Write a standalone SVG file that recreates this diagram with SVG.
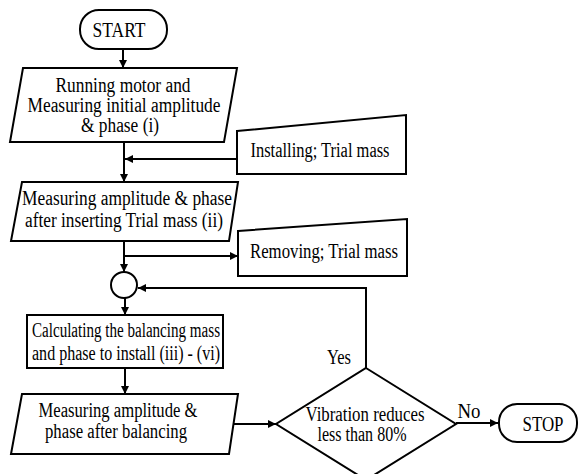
<svg xmlns="http://www.w3.org/2000/svg" width="579" height="474" viewBox="0 0 579 474">
  <style>
    .shape { fill: #ffffff; stroke: #000000; stroke-width: 2; stroke-linejoin: miter; }
    .conn { fill: none; stroke: #000000; stroke-width: 2; }
    .t { font-family: 'Liberation Serif', 'Times New Roman', serif; font-size: 20px; fill: #000000; text-anchor: middle; }
  </style>
  <defs>
    <marker id="arrow" viewBox="0 0 10 10" refX="10" refY="5" markerWidth="9" markerHeight="8" markerUnits="userSpaceOnUse" orient="auto">
      <path d="M0,0 L10,5 L0,10 z" fill="#000000"/>
    </marker>
  </defs>
  <rect width="579" height="474" fill="#ffffff"/>

  <g id="connectors">
    <path class="conn" d="M123,49 V68" marker-end="url(#arrow)"/>
    <path class="conn" d="M124,142 V182" marker-end="url(#arrow)"/>
    <path class="conn" d="M237,159 H125" marker-end="url(#arrow)"/>
    <path class="conn" d="M124,241 V272" marker-end="url(#arrow)"/>
    <path class="conn" d="M124,256 H238" marker-end="url(#arrow)"/>
    <path class="conn" d="M125,298 V315" marker-end="url(#arrow)"/>
    <path class="conn" d="M125,368 V394" marker-end="url(#arrow)"/>
    <path class="conn" d="M233,424 H276" marker-end="url(#arrow)"/>
    <path class="conn" d="M456,423 H498" marker-end="url(#arrow)"/>
    <path class="conn" d="M366,368 V288 H138" marker-end="url(#arrow)"/>
  </g>

  <g font-family="Liberation Serif, Times New Roman, serif">
  <g id="start">
    <rect class="shape" x="80" y="10" width="87" height="39" rx="19" ry="19"/>
    <text class="t" x="119" y="37" textLength="53" lengthAdjust="spacingAndGlyphs">START</text>
  </g>

  <g id="measure-initial">
    <polygon class="shape" points="23,68 237,68 224,142 10,142"/>
    <text class="t" x="123" y="92" textLength="135" lengthAdjust="spacingAndGlyphs">Running motor and</text>
    <text class="t" x="124" y="112" textLength="193" lengthAdjust="spacingAndGlyphs">Measuring initial amplitude</text>
    <text class="t" x="120" y="132" textLength="78" lengthAdjust="spacingAndGlyphs">&amp; phase (i)</text>
  </g>

  <g id="installing">
    <polygon class="shape" points="237,131 406,115 406,174 237,174"/>
    <text class="t" x="320" y="157" textLength="139" lengthAdjust="spacingAndGlyphs">Installing; Trial mass</text>
  </g>

  <g id="measure-trial">
    <polygon class="shape" points="22,182 238,182 229,241 11,241"/>
    <text class="t" x="127" y="205" textLength="210" lengthAdjust="spacingAndGlyphs">Measuring amplitude &amp; phase</text>
    <text class="t" x="124" y="227" textLength="198" lengthAdjust="spacingAndGlyphs">after inserting Trial mass (ii)</text>
  </g>

  <g id="removing">
    <polygon class="shape" points="238,231 407,219 407,276 238,276"/>
    <text class="t" x="324" y="258" textLength="148" lengthAdjust="spacingAndGlyphs">Removing; Trial mass</text>
  </g>

  <g id="junction">
    <circle class="shape" cx="124" cy="285" r="13"/>
  </g>

  <g id="calculating">
    <rect class="shape" x="27" y="315" width="196" height="53"/>
    <text class="t" x="126" y="337" textLength="188" lengthAdjust="spacingAndGlyphs">Calculating the balancing mass</text>
    <text class="t" x="126" y="360" textLength="188" lengthAdjust="spacingAndGlyphs">and phase to install (iii) - (vi)</text>
  </g>

  <g id="measure-after">
    <polygon class="shape" points="22,394 238,394 229,454 11,454"/>
    <text class="t" x="118" y="417" textLength="159" lengthAdjust="spacingAndGlyphs">Measuring amplitude &amp;</text>
    <text class="t" x="116" y="438" textLength="142" lengthAdjust="spacingAndGlyphs">phase after balancing</text>
  </g>

  <g id="decision">
    <polygon class="shape" points="366,368 456,424 366,480 276,424"/>
    <text class="t" x="365" y="421" textLength="119" lengthAdjust="spacingAndGlyphs">Vibration reduces</text>
    <text class="t" x="362" y="441" textLength="89" lengthAdjust="spacingAndGlyphs">less than 80%</text>
  </g>

  <g id="labels">
    <text class="t" x="339" y="364" textLength="24" lengthAdjust="spacingAndGlyphs">Yes</text>
    <text class="t" x="469" y="418" textLength="23" lengthAdjust="spacingAndGlyphs">No</text>
  </g>

  <g id="stop">
    <rect class="shape" x="499" y="404" width="78" height="38" rx="18" ry="18"/>
    <text class="t" x="543" y="431" textLength="41" lengthAdjust="spacingAndGlyphs">STOP</text>
  </g>
  </g>
</svg>
